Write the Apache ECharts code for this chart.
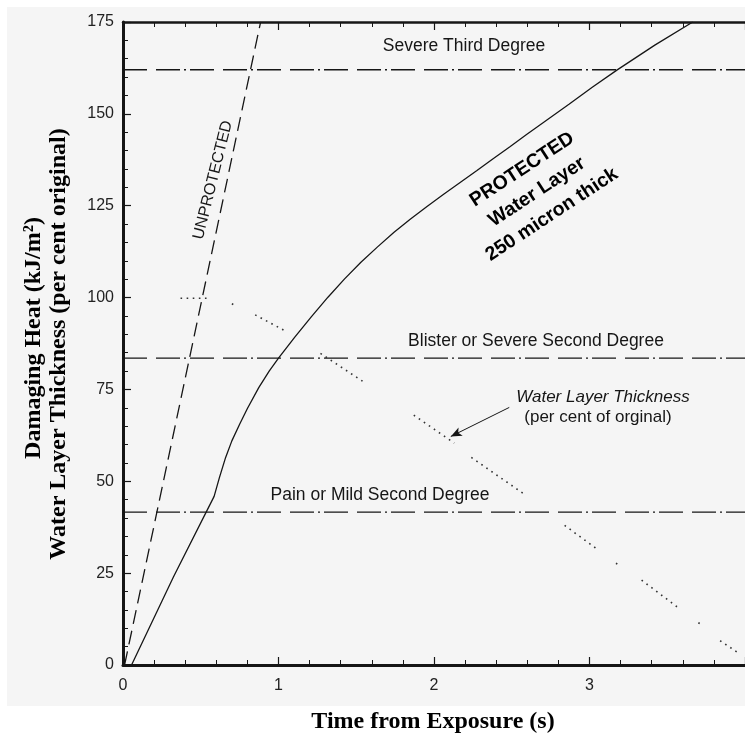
<!DOCTYPE html>
<html>
<head>
<meta charset="utf-8">
<script src="https://cdn.jsdelivr.net/npm/echarts@6/dist/echarts.min.js"></script>
<style>html,body{margin:0;padding:0;background:#fff;}#c{width:745px;height:736px;}</style>
</head>
<body>
<div id="c"></div>
<script>
// ---- data ----
const xTicks = [0, 1, 2, 3];
const yTicks = [0, 25, 50, 75, 100, 125, 150, 175];
// unprotected skin (dashed)
const unprotT = [0.01, 0.885];
const unprotV = [0, 175];
// protected, water layer 250 micron (solid)
const protT = [0.055, 0.325, 0.586, 0.62, 0.66, 0.70, 0.75, 0.80, 0.873, 0.94, 1.0, 1.106, 1.212, 1.318, 1.425, 1.53, 1.637, 1.743, 1.849, 1.955, 2.062, 2.168, 2.274, 2.38, 2.486, 2.593, 2.699, 2.868, 3.02, 3.176, 3.42, 3.664];
const protV = [0, 24, 45.9, 51.0, 56.5, 61.0, 65.5, 69.8, 75.5, 80.0, 83.5, 89.3, 94.8, 100.1, 105.1, 109.6, 113.8, 117.8, 121.4, 124.8, 128.1, 131.3, 134.5, 137.8, 141.0, 144.3, 147.5, 152.6, 157.3, 161.9, 168.7, 175];
// water layer thickness (dotted, broken)
const waterT = [0.37, 0.54, null, 0.70, 0.71, null, 0.85, 1.04, null, 1.27, 1.56, null, 1.87, 2.13, null, 2.24, 2.58, null, 2.84, 3.05, null, 3.17, 3.19, null, 3.335, 3.58, null, 3.70, 3.72, null, 3.84, 3.96];
const waterV = [99.8, 99.8, null, 98.3, 98.1, null, 95.3, 91.0, null, 84.8, 76.7, null, 68.0, 60.4, null, 56.5, 46.5, null, 38.0, 31.5, null, 27.7, 27.2, null, 23.1, 15.3, null, 11.5, 11.0, null, 6.6, 3.2];
// burn thresholds (dash-dot)
const levelNames = ['Severe Third Degree', 'Blister or Severe Second Degree', 'Pain or Mild Second Degree'];
const levelValues = [162, 83.5, 41.6];
// arrow pointing at the water-layer curve
const arrowT = [2.484, 2.108];
const arrowV = [70.1, 62.2];

// ---- chart ----
const chart = echarts.init(document.getElementById('c'));
const ink = '#161616';
const sans = 'Liberation Sans, Arial, sans-serif';
const serif = 'Liberation Serif, Times New Roman, serif';

function pairs(xs, ys) {
  return xs.map((x, i) => (x === null || ys[i] === null) ? '-' : [x, ys[i]]);
}

const series = [];
levelValues.forEach((v, i) => {
  series.push({
    type: 'line', name: levelNames[i], data: [[0, v], [4, v]],
    symbol: 'none', silent: true,
    lineStyle: { color: ink, width: 1.3, type: [24, 9, 24, 4, 2, 4] }
  });
});
series.push({
  type: 'line', name: 'Unprotected', data: pairs(unprotT, unprotV),
  symbol: 'none', lineStyle: { color: ink, width: 1.3, type: [14, 7] }
});
series.push({
  type: 'line', name: 'Protected', data: pairs(protT, protV),
  symbol: 'none', smooth: false, lineStyle: { color: ink, width: 1.3 }
});
series.push({
  type: 'line', name: 'Water Layer Thickness', data: pairs(waterT, waterV),
  symbol: 'none', connectNulls: false,
  lineStyle: { color: '#333', width: 1.6, type: [1.6, 4.5] },
  markLine: {
    silent: true, symbol: ['none', 'arrow'], symbolSize: [7, 11],
    lineStyle: { color: ink, width: 1, type: 'solid' },
    label: { show: false },
    data: [[{ coord: [arrowT[0], arrowV[0]] }, { coord: [arrowT[1], arrowV[1]] }]]
  }
});

const axisCommon = {
  type: 'value', min: 0,
  axisLine: { show: true, lineStyle: { color: ink, width: 3 } },
  axisTick: { show: true, inside: true, length: 8, lineStyle: { color: ink, width: 1.2 } },
  minorTick: { show: true, splitNumber: 5, length: 5, lineStyle: { color: ink, width: 1 } },
  splitLine: { show: false }
};

chart.setOption({
  backgroundColor: '#f5f5f5',
  animation: false,
  grid: { left: 123, top: 22, width: 628, height: 643 },
  xAxis: [
    Object.assign({}, axisCommon, {
      max: 4, interval: 1, position: 'bottom',
      axisLabel: { show: true, margin: 13, fontSize: 16, color: '#222', fontFamily: sans, showMaxLabel: false,
        formatter: v => xTicks.includes(v) ? String(v) : '' }
    }),
    Object.assign({}, axisCommon, {
      max: 4, interval: 1, position: 'top', axisLabel: { show: false },
      axisLine: { show: true, lineStyle: { color: ink, width: 2.5 } }
    })
  ],
  yAxis: Object.assign({}, axisCommon, {
    max: 175, interval: 25,
    axisLabel: { show: true, margin: 9, fontSize: 16, color: '#222', fontFamily: sans,
      formatter: v => yTicks.includes(v) ? String(v) : '' }
  }),
  series: series,
  graphic: [
    { type: 'rect', silent: true, shape: { x: 0, y: 0, width: 745, height: 7 }, style: { fill: '#fff' } },
    { type: 'rect', silent: true, shape: { x: 0, y: 0, width: 7, height: 736 }, style: { fill: '#fff' } },
    { type: 'rect', silent: true, shape: { x: 0, y: 706, width: 745, height: 30 }, style: { fill: '#fff' } },
    { type: 'text', x: 433, y: 722, style: { text: 'Time from Exposure (s)', font: 'bold 24px ' + serif, fill: '#000', align: 'center', verticalAlign: 'middle' } },
    { type: 'text', x: 34, y: 338, rotation: Math.PI / 2, style: { text: 'Damaging Heat (kJ/m²)', font: 'bold 24px ' + serif, fill: '#000', align: 'center', verticalAlign: 'middle' } },
    { type: 'text', x: 59, y: 344, rotation: Math.PI / 2, style: { text: 'Water Layer Thickness (per cent original)', font: 'bold 24px ' + serif, fill: '#000', align: 'center', verticalAlign: 'middle' } },
    { type: 'text', x: 464, y: 46, style: { text: levelNames[0], font: '17.5px ' + sans, fill: ink, align: 'center', verticalAlign: 'middle' } },
    { type: 'text', x: 536, y: 341, style: { text: levelNames[1], font: '17.5px ' + sans, fill: ink, align: 'center', verticalAlign: 'middle' } },
    { type: 'text', x: 380, y: 495, style: { text: levelNames[2], font: '17.5px ' + sans, fill: ink, align: 'center', verticalAlign: 'middle' } },
    { type: 'text', x: 603, y: 397, style: { text: 'Water Layer Thickness', font: 'italic 17px ' + sans, fill: ink, align: 'center', verticalAlign: 'middle' } },
    { type: 'text', x: 598, y: 417, style: { text: '(per cent of orginal)', font: '17px ' + sans, fill: ink, align: 'center', verticalAlign: 'middle' } },
    { type: 'text', x: 213, y: 180, rotation: 76 * Math.PI / 180, style: { text: 'UNPROTECTED', font: '16px ' + sans, fill: ink, align: 'center', verticalAlign: 'middle' } },
    { type: 'text', x: 537, y: 192, rotation: 33.3 * Math.PI / 180, style: { text: 'PROTECTED\nWater Layer\n250 micron thick', font: 'bold 19.5px ' + sans, lineHeight: 27, fill: '#000', align: 'center', verticalAlign: 'middle' } }
  ]
});
</script>
</body>
</html>
